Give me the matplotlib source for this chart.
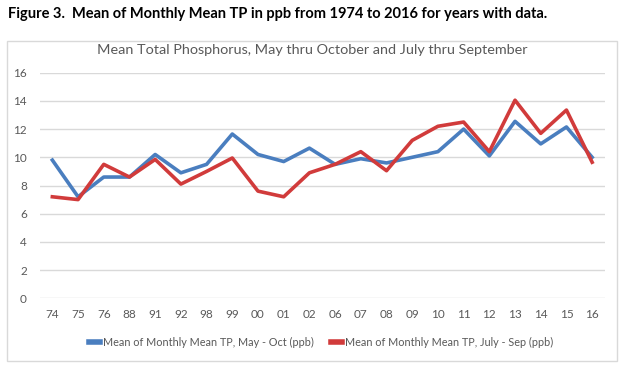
import matplotlib.pyplot as plt
from matplotlib.patches import Rectangle

years = ['74', '75', '76', '88', '91', '92', '98', '99', '00', '01', '02',
         '06', '07', '08', '09', '10', '11', '12', '13', '14', '15', '16']
may_oct = [9.8, 7.2, 8.6, 8.6, 10.2, 8.9, 9.5, 11.65, 10.2, 9.7, 10.65,
           9.5, 9.9, 9.6, 10.0, 10.4, 12.0, 10.1, 12.55, 10.95, 12.15, 10.0]
jul_sep = [7.2, 7.0, 9.5, 8.6, 9.85, 8.1, 9.0, 9.95, 7.6, 7.2, 8.9,
           9.5, 10.4, 9.05, 11.2, 12.2, 12.5, 10.4, 14.05, 11.7, 13.35, 9.65]

plt.rcParams['font.family'] = ['Lato', 'DejaVu Sans']

W, H = 634, 374
fig = plt.figure(figsize=(W / 100, H / 100), dpi=100)

# chart frame
fig.patches.append(Rectangle((7 / W, 1 - 361 / H), 610 / W, 320 / H,
                             transform=fig.transFigure, fill=False,
                             edgecolor='#d9d9d9', linewidth=1))

fig.text(8 / W, 1 - 14 / H, 'Figure 3.  Mean of Monthly Mean TP in ppb from 1974 to 2016 for years with data.',
         fontsize=10.5, fontweight='bold', va='center', ha='left')
fig.text(312 / W, 1 - 50 / H, 'Mean Total Phosphorus, May thru October and July thru September',
         fontsize=10.4, color='#595959', va='center', ha='center')

ax = fig.add_axes([39.5 / W, 1 - 298.3 / H, (605 - 39.5) / W, (298.3 - 72.7) / H])
x = range(len(years))
ax.plot(x, may_oct, color='#4a7ebf', lw=2.6, solid_joinstyle='round',
        label='Mean of Monthly Mean TP, May - Oct (ppb)')
ax.plot(x, jul_sep, color='#d13b3b', lw=2.6, solid_joinstyle='round',
        label='Mean of Monthly Mean TP, July - Sep (ppb)')

ax.set_xlim(-0.5, len(years) - 0.5)
ax.set_ylim(0, 16)
ax.set_yticks(range(0, 17, 2))
ax.set_xticks(list(x))
ax.set_xticklabels(years)
ax.grid(axis='y', color='#d9d9d9', lw=1)
ax.set_axisbelow(True)
for s in ax.spines.values():
    s.set_visible(False)
ax.tick_params(length=0, labelsize=8.5, labelcolor='#595959')
ax.tick_params(axis='x', pad=8)
ax.tick_params(axis='y', pad=9)

leg = fig.legend(loc='center', bbox_to_anchor=(321 / W, 1 - 342 / H), ncol=2,
                 frameon=False, fontsize=7.8, labelcolor='#595959',
                 handlelength=1.0, handletextpad=0.3, columnspacing=1.6)
for h in leg.get_lines():
    h.set_linewidth(4)

fig.savefig('out.png', dpi=100)
